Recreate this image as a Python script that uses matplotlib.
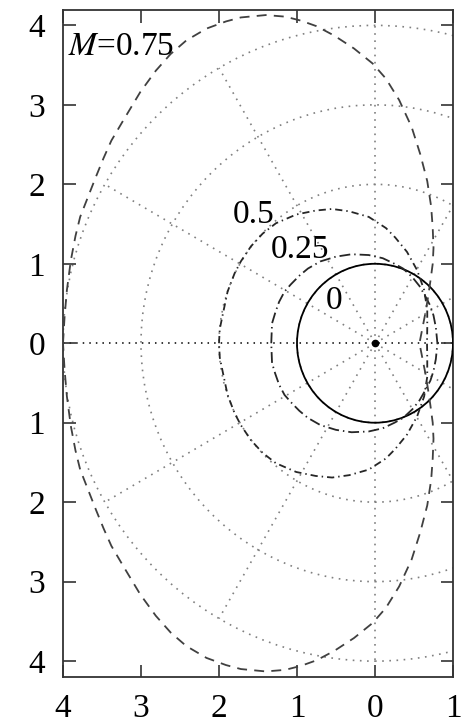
import numpy as np
import matplotlib
matplotlib.use('Agg')
import matplotlib.pyplot as plt
from matplotlib.patches import Circle

plt.rcParams['font.family'] = ['Liberation Serif', 'DejaVu Serif']
plt.rcParams['mathtext.fontset'] = 'stix'

# upper halves of the curves, mirrored below
radius_m0 = 1.0

x_m25 = [-1.33, -1.32, -1.28, -1.23, -1.16, -1.08, -0.97, -0.86, -0.70, -0.50, -0.30,
         -0.08, 0.10, 0.25, 0.36, 0.48, 0.57, 0.64, 0.71, 0.75, 0.78, 0.80]
y_m25 = [0.00, 0.25, 0.38, 0.52, 0.65, 0.74, 0.85, 0.94, 1.03, 1.09, 1.12,
         1.11, 1.07, 1.00, 0.94, 0.83, 0.72, 0.60, 0.47, 0.35, 0.20, 0.00]

x_m50 = [-2.00, -1.99, -1.95, -1.89, -1.80, -1.72, -1.59, -1.44, -1.27, -1.01, -0.76,
         -0.55, -0.33, -0.08, 0.14, 0.26, 0.41, 0.54, 0.63, 0.67, 0.67, 0.667]
y_m50 = [0.00, 0.18, 0.37, 0.65, 0.88, 1.03, 1.22, 1.38, 1.51, 1.62, 1.67,
         1.69, 1.66, 1.59, 1.45, 1.33, 1.15, 0.92, 0.67, 0.42, 0.20, 0.00]

x_m75 = [-4.00, -3.98, -3.95, -3.90, -3.84, -3.78, -3.68, -3.58, -3.48, -3.38, -3.23,
         -3.12, -3.01, -2.81, -2.62, -2.42, -2.16, -1.91, -1.72, -1.40, -1.15, -0.95,
         -0.75, -0.52, -0.27, -0.03, 0.14, 0.31, 0.47, 0.58, 0.67, 0.72, 0.74, 0.75,
         0.74, 0.71, 0.68, 0.65, 0.61, 0.57]
y_m75 = [0.00, 0.33, 0.67, 1.04, 1.35, 1.59, 1.84, 2.09, 2.33, 2.55, 2.80,
         2.98, 3.16, 3.43, 3.64, 3.81, 3.96, 4.05, 4.10, 4.13, 4.11, 4.06,
         3.99, 3.87, 3.71, 3.52, 3.33, 3.06, 2.72, 2.38, 2.04, 1.72, 1.45, 1.20,
         1.00, 0.78, 0.58, 0.40, 0.20, 0.00]

grid_radii = [1, 2, 3, 4]
grid_angles = [30, 60, 90, 120, 150, 210, 240, 270, 300, 330]

xticks = [-4, -3, -2, -1, 0, 1]
xticklabels = ['4', '3', '2', '1', '0', '1']
yticks = [-4, -3, -2, -1, 0, 1, 2, 3, 4]
yticklabels = ['4', '3', '2', '1', '0', '1', '2', '3', '4']


def closed(xs, ys):
    xs = np.asarray(xs)
    ys = np.asarray(ys)
    return (np.concatenate([xs, xs[::-1][1:]]),
            np.concatenate([ys, -ys[::-1][1:]]))


fig = plt.figure(figsize=(4.75, 7.27), dpi=100)
ax = fig.add_axes([63 / 475, 1 - 677 / 727, 390 / 475, 667.5 / 727])
ax.set_xlim(-4, 1)
ax.set_ylim(-4.2, 4.2)

# polar grid
dots = (0, (1, 3.3))
for r in grid_radii:
    ax.add_patch(Circle((0, 0), r, fill=False, ec='0.5', lw=1.2, ls=dots, zorder=1))
rmax = grid_radii[-1]
for a in grid_angles:
    t = np.deg2rad(a)
    ax.plot([0, rmax * np.cos(t)], [0, rmax * np.sin(t)], color='0.5', lw=1.2, ls=dots, zorder=1)
ax.axhline(0, color='black', lw=1.1, ls=dots, zorder=1)

# curves
ax.add_patch(Circle((0, 0), radius_m0, fill=False, ec='black', lw=1.3, zorder=3))
xx, yy = closed(x_m25, y_m25)
ax.plot(xx, yy, color='0.15', lw=1.3, ls=(0, (6, 2.2, 0.8, 2.2)), zorder=3)
xx, yy = closed(x_m50, y_m50)
ax.plot(xx, yy, color='0.15', lw=1.3, ls=(0, (4, 2.2, 0.8, 2.2)), zorder=3)
xx, yy = closed(x_m75, y_m75)
ax.plot(xx, yy, color='0.25', lw=1.3, ls=(0, (5.5, 4)), zorder=3)
ax.plot([0], [0], 'o', ms=4.5, color='black', zorder=4)

# labels
fs = 24
ax.text(-3.93, 3.73, r'$M$=0.75', fontsize=fs, ha='left', va='center')
ax.text(-1.56, 1.62, '0.5', fontsize=fs, ha='center', va='center')
ax.text(-0.96, 1.18, '0.25', fontsize=fs, ha='center', va='center')
ax.text(-0.52, 0.54, '0', fontsize=fs, ha='center', va='center')

ax.set_xticks(xticks)
ax.set_xticklabels(xticklabels)
ax.set_yticks(yticks)
ax.set_yticklabels(yticklabels)
ax.tick_params(direction='in', length=9, width=1.2, top=True, right=True,
               labelsize=fs, color='0.2')
ax.tick_params(axis='y', pad=13)
ax.tick_params(axis='x', pad=12)
for s in ax.spines.values():
    s.set_linewidth(1.3)
    s.set_color('0.2')

fig.savefig('out.png', dpi=100)
